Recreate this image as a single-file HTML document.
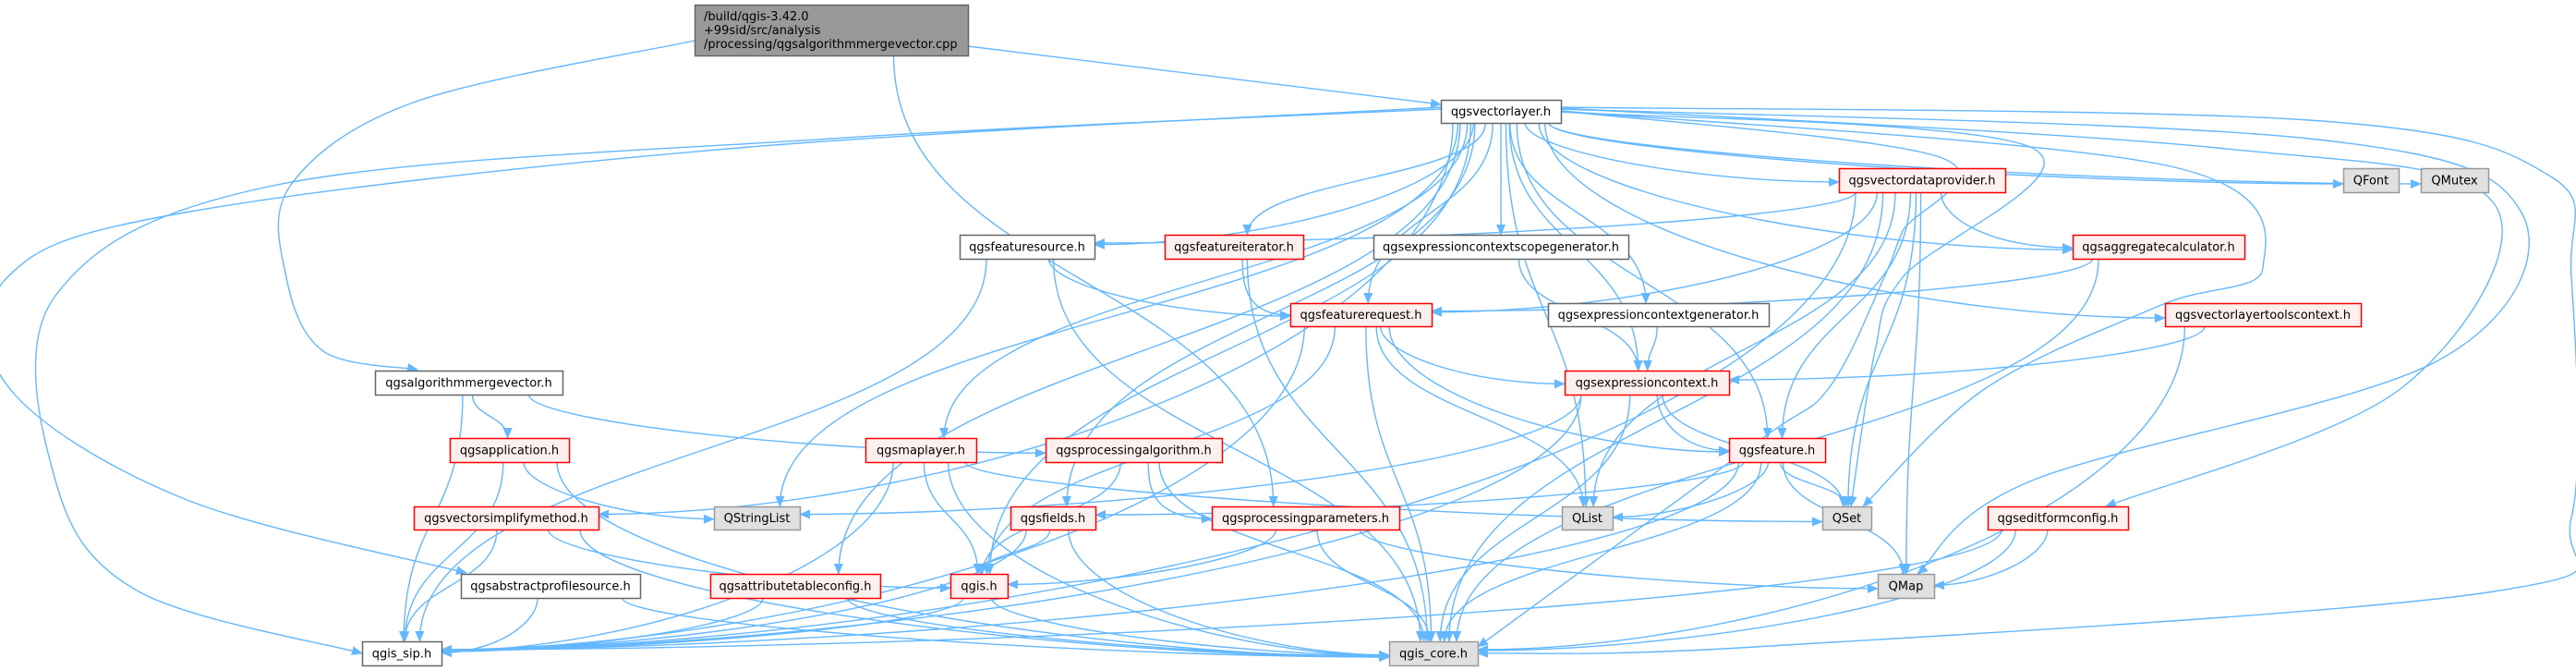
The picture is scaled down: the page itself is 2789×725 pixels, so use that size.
<!DOCTYPE html>
<html><head><meta charset="utf-8"><style>
html,body{margin:0;padding:0;background:#fff;}
svg{display:block;}
text{font-family:"DejaVu Sans","Liberation Sans",sans-serif;font-size:13px;fill:#000;}
</style></head><body>
<svg id="g" width="2789" height="725" viewBox="0 0 2789 725" xmlns="http://www.w3.org/2000/svg">
<defs><marker id="ar" markerWidth="12" markerHeight="10" refX="11" refY="5" orient="auto" markerUnits="userSpaceOnUse"><path d="M0,0 L12,5 L0,10 z" fill="#63b8ff"/></marker></defs>
<g id="edges" fill="none" stroke="#63b8ff" stroke-width="1.4"></g>
<g id="nodes"></g>
</svg>
<script>
var N={
root:[752,5,1048,60,'root',''],
vl:[1560,108,1690,133,'w','qgsvectorlayer.h'],
amv:[406,401,609,427,'w','qgsalgorithmmergevector.h'],
app:[487,474,616,500,'r','qgsapplication.h'],
qsl:[773,548,866,573,'g','QStringList'],
vsm:[448,548,648,573,'r','qgsvectorsimplifymethod.h'],
aps:[499,621,693,647,'w','qgsabstractprofilesource.h'],
atc:[769,621,953,647,'r','qgsattributetableconfig.h'],
sip:[392,694,478,720,'w','qgis_sip.h'],
ml:[937,474,1057,500,'r','qgsmaplayer.h'],
fs:[1039,254,1185,280,'w','qgsfeaturesource.h'],
fi:[1261,254,1411,280,'r','qgsfeatureiterator.h'],
ecsg:[1487,254,1763,280,'w','qgsexpressioncontextscopegenerator.h'],
fr:[1397,328,1550,353,'r','qgsfeaturerequest.h'],
ecg:[1676,328,1915,353,'w','qgsexpressioncontextgenerator.h'],
ec:[1694,401,1872,427,'r','qgsexpressioncontext.h'],
pa:[1132,474,1323,500,'r','qgsprocessingalgorithm.h'],
f:[1872,474,1976,500,'r','qgsfeature.h'],
fl:[1094,548,1186,573,'r','qgsfields.h'],
pp:[1312,548,1515,573,'r','qgsprocessingparameters.h'],
ql:[1691,548,1746,573,'g','QList'],
qgis:[1029,621,1091,647,'r','qgis.h'],
core:[1504,694,1600,720,'g','qgis_core.h'],
qset:[1973,548,2026,573,'g','QSet'],
vdp:[1991,182,2171,208,'r','qgsvectordataprovider.h'],
qfont:[2537,182,2597,208,'g','QFont'],
qmutex:[2621,182,2694,208,'g','QMutex'],
agg:[2244,254,2430,280,'r','qgsaggregatecalculator.h'],
vltc:[2344,328,2556,353,'r','qgsvectorlayertoolscontext.h'],
efc:[2152,548,2304,573,'r','qgseditformconfig.h'],
qmap:[2033,621,2094,647,'g','QMap']
};
var E=[
['root','pp'],
['amv','app'],['amv','sip'],['amv','pa'],
['vl','vsm'],['vl','qsl'],['vl','atc'],['vl','ml'],['vl','fl'],['vl','qgis'],['vl','fs'],['vl','fi'],['vl','fr'],['vl','ecsg'],['vl','ec'],['vl','ecg'],['vl','ql'],['vl','f'],['vl','vdp'],['vl','agg'],['vl','vltc'],['vl','qfont'],['vl','qmutex'],
['vdp','fs'],['vdp','sip'],['vdp','fr'],['vdp','agg'],['vdp','ql'],['vdp','f'],['vdp','qset'],['vdp','qmap'],['vdp','core'],
['fs','fr'],['fs','sip'],['fs','core'],['fi','fr'],['fi','core'],['ecsg','ec'],['agg','fr'],['agg','core'],
['fr','sip'],['fr','qgis'],['fr','ec'],['fr','f'],['fr','ql'],['fr','core'],['ecg','ec'],['vltc','ec'],['vltc','core'],
['ec','qsl'],['ec','sip'],['ec','f'],['ec','qset'],['ec','core'],
['ml','sip'],['ml','qgis'],['ml','qset'],['ml','core'],
['pa','qgis'],['pa','pp'],['pa','core'],
['f','fl'],['f','ql'],['f','qset'],['f','qmap'],['f','sip'],['f','core'],
['fl','qgis'],['fl','sip'],['fl','core'],['pp','qgis'],['pp','qmap'],['pp','core'],
['app','qsl'],['app','sip'],['app','core'],['vsm','sip'],['vsm','qgis'],['vsm','core'],
['aps','sip'],['aps','core'],['atc','sip'],['atc','core'],['qgis','sip'],['qgis','core'],
['efc','qmap'],['efc','sip'],['efc','core']
];
var W=[
[[1048,50],[1560,113]],
[[1560,118],[900,150],[300,200],[60,320],[60,520],[150,640],[392,707]],
[[1560,116],[800,160],[200,230],[8,300],[10,420],[200,540],[505,620]],
[[752,44],[450,110],[315,200],[310,300],[350,380],[452,400]],
[[1690,116],[2500,130],[2760,190],[2784,300],[2784,560],[2700,640],[1900,700],[1600,707]],
[[1690,118],[2500,150],[2730,230],[2640,390],[2200,520],[2076,621]],
[[1690,117],[2400,160],[2700,220],[2600,420],[2280,548]],
[[1690,120],[2350,180],[2450,290],[2340,330],[2150,420],[2017,548]],
[[1690,121],[2200,160],[2060,300],[2030,380],[2004,548]],
[[1690,120],[2100,170],[2060,250],[2040,300],[1980,420],[1900,480],[1600,700]]
];
var NS='http://www.w3.org/2000/svg',eg=document.getElementById('edges'),ng=document.getElementById('nodes');
function cx(n){return (n[0]+n[2])/2}
function cl(v,a,b){return Math.max(a,Math.min(b,v))}
function add(d){var p=document.createElementNS(NS,'path');p.setAttribute('d',d);p.setAttribute('marker-end','url(#ar)');eg.appendChild(p);}
E.forEach(function(e){
 var s=N[e[0]],t=N[e[1]];
 var dxc=cx(t)-cx(s);
 var f=cl(dxc/900,-1,1);
 var sx=cx(s)+(s[2]-s[0])*0.4*f, sy=s[3];
 var dy=t[1]-s[3];
 if(dy<10){
  var ex=cx(t)-(t[2]-t[0])*0.3*f, ey=t[1];
  add('M'+sx+','+sy+' C'+sx+','+(sy+60)+' '+ex+','+(ey-60)+' '+ex+','+ey);return;}
 if(Math.abs(dxc)>2.5*dy){
  var left=dxc<0; var ex=left?t[2]:t[0], ey=(t[1]+t[3])/2 + cl(f*4,-6,6);
  add('M'+sx+','+sy+' C'+sx+','+(sy+dy*0.6)+' '+(ex-dxc*0.35)+','+ey+' '+ex+','+ey);return;}
 var ex=cx(t)-(t[2]-t[0])*0.3*f, ey=t[1];
 add('M'+sx+','+sy+' C'+sx+','+(sy+dy*0.5)+' '+ex+','+(ey-dy*0.5)+' '+ex+','+ey);
});
W.forEach(function(p){
 var d='M'+p[0][0]+','+p[0][1];
 if(p.length==2){add(d+' L'+p[1][0]+','+p[1][1]);return;}
 for(var i=0;i<p.length-1;i++){
  var p0=p[Math.max(0,i-1)],p1=p[i],p2=p[i+1],p3=p[Math.min(p.length-1,i+2)];
  var c1=[p1[0]+(p2[0]-p0[0])/6,p1[1]+(p2[1]-p0[1])/6],c2=[p2[0]-(p3[0]-p1[0])/6,p2[1]-(p3[1]-p1[1])/6];
  d+=' C'+c1[0]+','+c1[1]+' '+c2[0]+','+c2[1]+' '+p2[0]+','+p2[1];
 }
 add(d);
});
for(var k in N){
 var n=N[k],r=document.createElementNS(NS,'rect');
 r.setAttribute('x',n[0]+.5);r.setAttribute('y',n[1]+.5);r.setAttribute('width',n[2]-n[0]);r.setAttribute('height',n[3]-n[1]);
 var fill='#fff',st='#666';
 if(n[4]=='r'){fill='#fff0f0';st='#ff0000';}
 if(n[4]=='g'){fill='#e0e0e0';st='#999';}
 if(n[4]=='root'){fill='#999';st='#666';}
 r.setAttribute('fill',fill);r.setAttribute('stroke',st);r.setAttribute('stroke-width','1.5');ng.appendChild(r);
 if(n[5]){var t=document.createElementNS(NS,'text');t.setAttribute('x',cx(n));t.setAttribute('y',(n[1]+n[3])/2+4.5);t.setAttribute('text-anchor','middle');t.textContent=n[5];ng.appendChild(t);}
}
var L=['/build/qgis-3.42.0','+99sid/src/analysis','/processing/qgsalgorithmmergevector.cpp'];
L.forEach(function(s,i){var t=document.createElementNS(NS,'text');t.setAttribute('x',762);t.setAttribute('y',22+i*15);t.textContent=s;ng.appendChild(t);});
</script>
</body></html>
